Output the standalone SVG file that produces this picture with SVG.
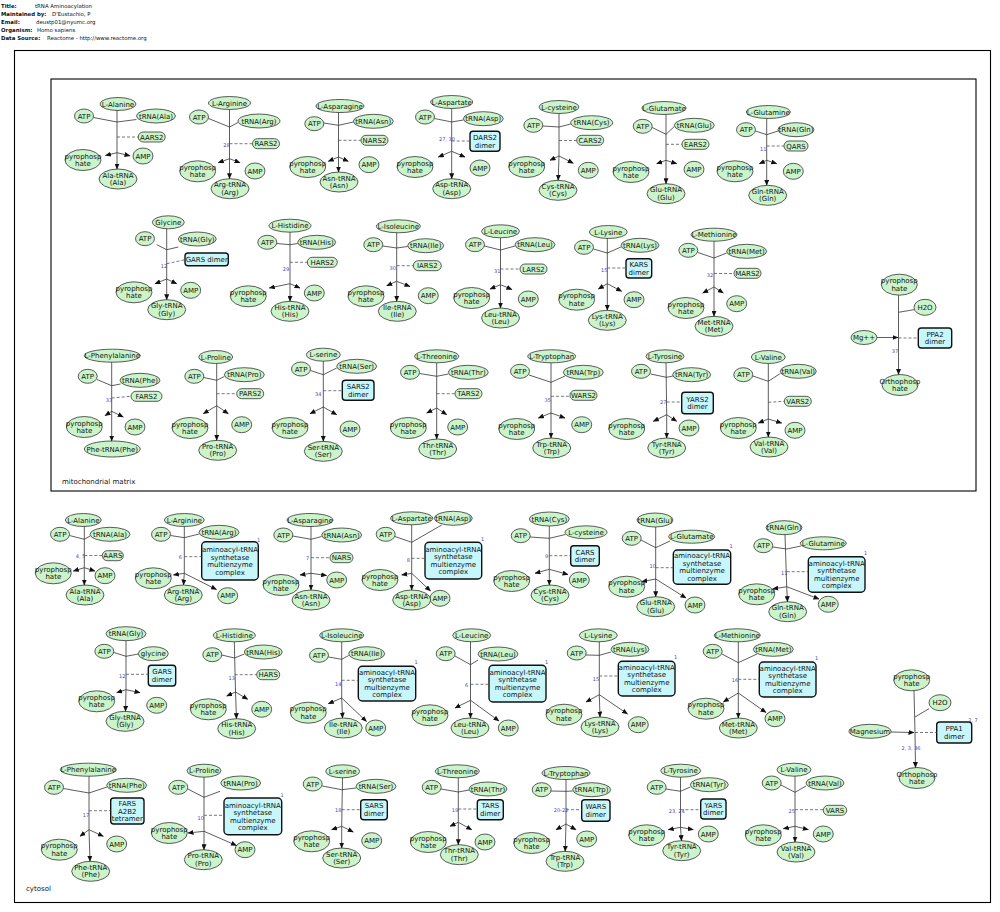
<svg xmlns="http://www.w3.org/2000/svg" width="1000" height="912" viewBox="0 0 1000 912">
<style>
text{font-family:"DejaVu Sans","Liberation Sans",sans-serif;font-size:7px;text-anchor:middle;fill:#111}
.hd text{text-anchor:start;font-size:5.4px}
.hd .k{font-weight:bold}
.n ellipse,.n rect{fill:#cbf4cb;stroke:#333;stroke-width:.8}
.x rect{fill:#c8f7fb;stroke:#111;stroke-width:1.4}
.lb{font-size:5px;fill:#4646c8}
.cmp{fill:none;stroke:#000;stroke-width:1.1}
.cl{text-anchor:start}
#connectors path{fill:none;stroke:#333;stroke-width:.8}
#connectors .d{stroke-dasharray:3,2;stroke:#555}
#connectors .a{marker-end:url(#ah)}
</style>
<defs>
<marker id="ah" markerUnits="userSpaceOnUse" markerWidth="6" markerHeight="5" refX="5.5" refY="2.5" orient="auto"><path d="M0,0 L6,2.5 L0,5 z" fill="#111"/></marker>
</defs>
<rect width="1000" height="912" fill="#fff"/>
<g class="hd">
<text x="1" y="8" class="k">Title:</text><text x="35" y="8">tRNA Aminoacylation</text>
<text x="1" y="16" class="k">Maintained by:</text><text x="52" y="16">D'Eustachio, P</text>
<text x="1" y="24" class="k">Email:</text><text x="36" y="24">deustp01@nyumc.org</text>
<text x="1" y="32" class="k">Organism:</text><text x="37" y="32">Homo sapiens</text>
<text x="1" y="40" class="k">Data Source:</text><text x="47" y="40">Reactome - http://www.reactome.org</text>
</g>
<g id="cytosol"><rect class="cmp" x="14.5" y="50.5" width="976" height="852"/><text class="cl" x="26" y="891">cytosol</text></g>
<g id="mitochondrial-matrix"><rect class="cmp" x="51" y="79" width="925" height="412" stroke-width="1.3"/><text class="cl" x="62" y="484">mitochondrial matrix</text></g>

<!-- mitochondrial matrix, row 1 -->
<g id="m-ala-aa" class="n"><ellipse cx="118" cy="104" rx="18" ry="6.5"/><text x="118" y="106.5">L-Alanine</text></g>
<g id="m-ala-atp" class="n"><ellipse cx="84" cy="116" rx="9.5" ry="7"/><text x="84" y="118.5">ATP</text></g>
<g id="m-ala-trna" class="n"><ellipse cx="156" cy="116" rx="19.5" ry="7"/><text x="156" y="118.5">tRNA(Ala)</text></g>
<g id="m-ala-enz" class="n"><rect x="138.2" y="132" width="27" height="10" rx="5"/><text x="151.7" y="139.5">AARS2</text></g>
<g id="m-ala-ppi" class="n"><ellipse cx="83" cy="160" rx="18" ry="10.5"/><text x="83" y="158.5">pyrophosp<tspan x="83" dy="7.5">hate</tspan></text></g>
<g id="m-ala-amp" class="n"><ellipse cx="143" cy="156" rx="10" ry="8"/><text x="143" y="158.5">AMP</text></g>
<g id="m-ala-prod" class="n"><ellipse cx="118" cy="179" rx="19" ry="10"/><text x="118" y="177.5">Ala-tRNA<tspan x="118" dy="7.5">(Ala)</tspan></text></g>

<g id="m-arg-aa" class="n"><ellipse cx="229.5" cy="103" rx="21" ry="6.5"/><text x="229.5" y="105.5">L-Arginine</text></g>
<g id="m-arg-atp" class="n"><ellipse cx="199" cy="117" rx="9.5" ry="7"/><text x="199" y="119.5">ATP</text></g>
<g id="m-arg-trna" class="n"><ellipse cx="259" cy="121" rx="21" ry="7"/><text x="259" y="123.5">tRNA(Arg)</text></g>
<g id="m-arg-enz" class="n"><rect x="252.5" y="138.7" width="27" height="10" rx="5"/><text x="266" y="146.2">RARS2</text></g>
<g id="m-arg-ppi" class="n"><ellipse cx="197.7" cy="171.3" rx="18" ry="10.5"/><text x="197.7" y="169.8">pyrophosp<tspan x="197.7" dy="7.5">hate</tspan></text></g>
<g id="m-arg-amp" class="n"><ellipse cx="255" cy="171" rx="10" ry="8"/><text x="255" y="173.5">AMP</text></g>
<g id="m-arg-prod" class="n"><ellipse cx="230" cy="188.7" rx="19" ry="10"/><text x="230" y="187.2">Arg-tRNA<tspan x="230" dy="7.5">(Arg)</tspan></text></g>

<g id="m-asn-aa" class="n"><ellipse cx="340" cy="106" rx="24" ry="6.5"/><text x="340" y="108.5">L-Asparagine</text></g>
<g id="m-asn-atp" class="n"><ellipse cx="314.3" cy="123.7" rx="9.5" ry="7"/><text x="314.3" y="126.2">ATP</text></g>
<g id="m-asn-trna" class="n"><ellipse cx="373.3" cy="121.3" rx="20" ry="7"/><text x="373.3" y="123.8">tRNA(Asn)</text></g>
<g id="m-asn-enz" class="n"><rect x="361" y="135.3" width="27" height="10" rx="5"/><text x="374.5" y="142.8">NARS2</text></g>
<g id="m-asn-ppi" class="n"><ellipse cx="307.7" cy="167" rx="18" ry="10.5"/><text x="307.7" y="165.5">pyrophosp<tspan x="307.7" dy="7.5">hate</tspan></text></g>
<g id="m-asn-amp" class="n"><ellipse cx="369" cy="164.7" rx="10" ry="8"/><text x="369" y="167.2">AMP</text></g>
<g id="m-asn-prod" class="n"><ellipse cx="339" cy="182" rx="19" ry="10"/><text x="339" y="180.5">Asn-tRNA<tspan x="339" dy="7.5">(Asn)</tspan></text></g>

<g id="m-asp-aa" class="n"><ellipse cx="451.7" cy="102" rx="21" ry="6.5"/><text x="451.7" y="104.5">L-Aspartate</text></g>
<g id="m-asp-atp" class="n"><ellipse cx="425" cy="117" rx="9.5" ry="7"/><text x="425" y="119.5">ATP</text></g>
<g id="m-asp-trna" class="n"><ellipse cx="483.3" cy="118.7" rx="20" ry="7"/><text x="483.3" y="121.2">tRNA(Asp)</text></g>
<g id="m-asp-enz" class="x"><rect x="470" y="131.3" width="30" height="20" rx="3"/><text x="485" y="140">DARS2<tspan x="485" dy="7.5">dimer</tspan></text></g>
<g id="m-asp-ppi" class="n"><ellipse cx="415" cy="167" rx="18" ry="10.5"/><text x="415" y="165.5">pyrophosp<tspan x="415" dy="7.5">hate</tspan></text></g>
<g id="m-asp-amp" class="n"><ellipse cx="480" cy="168" rx="10" ry="8"/><text x="480" y="170.5">AMP</text></g>
<g id="m-asp-prod" class="n"><ellipse cx="451.7" cy="188.7" rx="19" ry="10"/><text x="451.7" y="187.2">Asp-tRNA<tspan x="451.7" dy="7.5">(Asp)</tspan></text></g>

<g id="m-cys-aa" class="n"><ellipse cx="559" cy="107" rx="20" ry="6.5"/><text x="559" y="109.5">L-cysteine</text></g>
<g id="m-cys-atp" class="n"><ellipse cx="533.3" cy="125.3" rx="9.5" ry="7"/><text x="533.3" y="127.8">ATP</text></g>
<g id="m-cys-trna" class="n"><ellipse cx="591.7" cy="122.7" rx="21" ry="7"/><text x="591.7" y="125.2">tRNA(Cys)</text></g>
<g id="m-cys-enz" class="n"><rect x="576.7" y="135.3" width="27" height="10" rx="5"/><text x="590.2" y="142.8">CARS2</text></g>
<g id="m-cys-ppi" class="n"><ellipse cx="526.7" cy="167" rx="18" ry="10.5"/><text x="526.7" y="165.5">pyrophosp<tspan x="526.7" dy="7.5">hate</tspan></text></g>
<g id="m-cys-amp" class="n"><ellipse cx="588.3" cy="170.3" rx="10" ry="8"/><text x="588.3" y="172.8">AMP</text></g>
<g id="m-cys-prod" class="n"><ellipse cx="558" cy="190.3" rx="19" ry="10"/><text x="558" y="188.8">Cys-tRNA<tspan x="558" dy="7.5">(Cys)</tspan></text></g>

<g id="m-glu-aa" class="n"><ellipse cx="664" cy="108" rx="22" ry="6.5"/><text x="664" y="110.5">L-Glutamate</text></g>
<g id="m-glu-atp" class="n"><ellipse cx="642.7" cy="126.3" rx="9.5" ry="7"/><text x="642.7" y="128.8">ATP</text></g>
<g id="m-glu-trna" class="n"><ellipse cx="694.3" cy="125.3" rx="20" ry="7"/><text x="694.3" y="127.8">tRNA(Glu)</text></g>
<g id="m-glu-enz" class="n"><rect x="682" y="139.3" width="27" height="10" rx="5"/><text x="695.5" y="146.8">EARS2</text></g>
<g id="m-glu-ppi" class="n"><ellipse cx="631" cy="172" rx="18" ry="10.5"/><text x="631" y="170.5">pyrophosp<tspan x="631" dy="7.5">hate</tspan></text></g>
<g id="m-glu-amp" class="n"><ellipse cx="694" cy="169.3" rx="10" ry="8"/><text x="694" y="171.8">AMP</text></g>
<g id="m-glu-prod" class="n"><ellipse cx="666" cy="193.7" rx="19" ry="10"/><text x="666" y="192.2">Glu-tRNA<tspan x="666" dy="7.5">(Glu)</tspan></text></g>

<g id="m-gln-aa" class="n"><ellipse cx="768.3" cy="112" rx="22" ry="6.5"/><text x="768.3" y="114.5">L-Glutamine</text></g>
<g id="m-gln-atp" class="n"><ellipse cx="746" cy="129.7" rx="9.5" ry="7"/><text x="746" y="132.2">ATP</text></g>
<g id="m-gln-trna" class="n"><ellipse cx="796" cy="129.7" rx="18" ry="7"/><text x="796" y="132.2">tRNA(Gln)</text></g>
<g id="m-gln-enz" class="n"><rect x="784" y="141" width="24" height="10" rx="5"/><text x="796" y="148.5">QARS</text></g>
<g id="m-gln-ppi" class="n"><ellipse cx="735" cy="171.3" rx="18" ry="10.5"/><text x="735" y="169.8">pyrophosp<tspan x="735" dy="7.5">hate</tspan></text></g>
<g id="m-gln-amp" class="n"><ellipse cx="793.3" cy="171.3" rx="10" ry="8"/><text x="793.3" y="173.8">AMP</text></g>
<g id="m-gln-prod" class="n"><ellipse cx="767.7" cy="195.3" rx="19" ry="10"/><text x="767.7" y="193.8">Gln-tRNA<tspan x="767.7" dy="7.5">(Gln)</tspan></text></g>

<!-- mitochondrial matrix, row 2 -->
<g id="m-gly-aa" class="n"><ellipse cx="168.3" cy="222.3" rx="16" ry="6.5"/><text x="168.3" y="224.8">Glycine</text></g>
<g id="m-gly-atp" class="n"><ellipse cx="145" cy="238.7" rx="9.5" ry="7"/><text x="145" y="241.2">ATP</text></g>
<g id="m-gly-trna" class="n"><ellipse cx="197.3" cy="239" rx="19" ry="7"/><text x="197.3" y="241.5">tRNA(Gly)</text></g>
<g id="m-gly-enz" class="x"><rect x="185" y="253" width="43.3" height="12.7" rx="3"/><text x="206.7" y="261.8">GARS dimer</text></g>
<g id="m-gly-ppi" class="n"><ellipse cx="134" cy="292.3" rx="18" ry="10.5"/><text x="134" y="290.8">pyrophosp<tspan x="134" dy="7.5">hate</tspan></text></g>
<g id="m-gly-amp" class="n"><ellipse cx="190.7" cy="290.3" rx="10" ry="8"/><text x="190.7" y="292.8">AMP</text></g>
<g id="m-gly-prod" class="n"><ellipse cx="166.7" cy="309.7" rx="19" ry="10"/><text x="166.7" y="308.2">Gly-tRNA<tspan x="166.7" dy="7.5">(Gly)</tspan></text></g>

<g id="m-his-aa" class="n"><ellipse cx="290" cy="225.7" rx="21" ry="6.5"/><text x="290" y="228.2">L-Histidine</text></g>
<g id="m-his-atp" class="n"><ellipse cx="267.3" cy="242.3" rx="9.5" ry="7"/><text x="267.3" y="244.8">ATP</text></g>
<g id="m-his-trna" class="n"><ellipse cx="316.7" cy="242.3" rx="19" ry="7"/><text x="316.7" y="244.8">tRNA(His)</text></g>
<g id="m-his-enz" class="n"><rect x="307.3" y="257.3" width="30" height="10" rx="5"/><text x="322.3" y="264.8">HARS2</text></g>
<g id="m-his-ppi" class="n"><ellipse cx="248.3" cy="296.3" rx="18" ry="10.5"/><text x="248.3" y="294.8">pyrophosp<tspan x="248.3" dy="7.5">hate</tspan></text></g>
<g id="m-his-amp" class="n"><ellipse cx="314.3" cy="293" rx="10" ry="8"/><text x="314.3" y="295.5">AMP</text></g>
<g id="m-his-prod" class="n"><ellipse cx="290" cy="311.3" rx="19" ry="10"/><text x="290" y="309.8">His-tRNA<tspan x="290" dy="7.5">(His)</tspan></text></g>

<g id="m-ile-aa" class="n"><ellipse cx="398.3" cy="226.3" rx="22" ry="6.5"/><text x="398.3" y="228.8">L-Isoleucine</text></g>
<g id="m-ile-atp" class="n"><ellipse cx="373.3" cy="244.7" rx="9.5" ry="7"/><text x="373.3" y="247.2">ATP</text></g>
<g id="m-ile-trna" class="n"><ellipse cx="425.7" cy="245.7" rx="18" ry="7"/><text x="425.7" y="248.2">tRNA(Ile)</text></g>
<g id="m-ile-enz" class="n"><rect x="413.3" y="260.7" width="28" height="10" rx="5"/><text x="427.3" y="268.2">IARS2</text></g>
<g id="m-ile-ppi" class="n"><ellipse cx="366" cy="296.3" rx="18" ry="10.5"/><text x="366" y="294.8">pyrophosp<tspan x="366" dy="7.5">hate</tspan></text></g>
<g id="m-ile-amp" class="n"><ellipse cx="428.3" cy="295.7" rx="10" ry="8"/><text x="428.3" y="298.2">AMP</text></g>
<g id="m-ile-prod" class="n"><ellipse cx="397.3" cy="311.3" rx="19" ry="10"/><text x="397.3" y="309.8">Ile-tRNA<tspan x="397.3" dy="7.5">(Ile)</tspan></text></g>

<g id="m-leu-aa" class="n"><ellipse cx="500.5" cy="231.3" rx="19" ry="6.5"/><text x="500.5" y="233.8">L-Leucine</text></g>
<g id="m-leu-atp" class="n"><ellipse cx="475" cy="244.7" rx="9.5" ry="7"/><text x="475" y="247.2">ATP</text></g>
<g id="m-leu-trna" class="n"><ellipse cx="535" cy="244.7" rx="20" ry="7"/><text x="535" y="247.2">tRNA(Leu)</text></g>
<g id="m-leu-enz" class="n"><rect x="520" y="264" width="27" height="10" rx="5"/><text x="533.5" y="271.5">LARS2</text></g>
<g id="m-leu-ppi" class="n"><ellipse cx="471.7" cy="298" rx="18" ry="10.5"/><text x="471.7" y="296.5">pyrophosp<tspan x="471.7" dy="7.5">hate</tspan></text></g>
<g id="m-leu-amp" class="n"><ellipse cx="528.3" cy="299" rx="10" ry="8"/><text x="528.3" y="301.5">AMP</text></g>
<g id="m-leu-prod" class="n"><ellipse cx="500.5" cy="318" rx="19" ry="10"/><text x="500.5" y="316.5">Leu-tRNA<tspan x="500.5" dy="7.5">(Leu)</tspan></text></g>

<g id="m-lys-aa" class="n"><ellipse cx="608.3" cy="232" rx="19" ry="6.5"/><text x="608.3" y="234.5">L-Lysine</text></g>
<g id="m-lys-atp" class="n"><ellipse cx="584" cy="247.3" rx="9.5" ry="7"/><text x="584" y="249.8">ATP</text></g>
<g id="m-lys-trna" class="n"><ellipse cx="640" cy="245.3" rx="19" ry="7"/><text x="640" y="247.8">tRNA(Lys)</text></g>
<g id="m-lys-enz" class="x"><rect x="626" y="258.7" width="25.7" height="19.3" rx="3"/><text x="638.8" y="267.1">KARS<tspan x="638.8" dy="7.5">dimer</tspan></text></g>
<g id="m-lys-ppi" class="n"><ellipse cx="576.7" cy="299.7" rx="18" ry="10.5"/><text x="576.7" y="298.2">pyrophosp<tspan x="576.7" dy="7.5">hate</tspan></text></g>
<g id="m-lys-amp" class="n"><ellipse cx="634" cy="299.7" rx="10" ry="8"/><text x="634" y="302.2">AMP</text></g>
<g id="m-lys-prod" class="n"><ellipse cx="607.3" cy="320.3" rx="19" ry="10"/><text x="607.3" y="318.8">Lys-tRNA<tspan x="607.3" dy="7.5">(Lys)</tspan></text></g>

<g id="m-met-aa" class="n"><ellipse cx="714" cy="234.7" rx="23" ry="6.5"/><text x="714" y="237.2">L-Methionine</text></g>
<g id="m-met-atp" class="n"><ellipse cx="688.3" cy="250.3" rx="9.5" ry="7"/><text x="688.3" y="252.8">ATP</text></g>
<g id="m-met-trna" class="n"><ellipse cx="746.7" cy="251.3" rx="20" ry="7"/><text x="746.7" y="253.8">tRNA(Met)</text></g>
<g id="m-met-enz" class="n"><rect x="734" y="268.3" width="27" height="10" rx="5"/><text x="747.5" y="275.8">MARS2</text></g>
<g id="m-met-ppi" class="n"><ellipse cx="686" cy="308" rx="18" ry="10.5"/><text x="686" y="306.5">pyrophosp<tspan x="686" dy="7.5">hate</tspan></text></g>
<g id="m-met-amp" class="n"><ellipse cx="736.7" cy="303.7" rx="10" ry="8"/><text x="736.7" y="306.2">AMP</text></g>
<g id="m-met-prod" class="n"><ellipse cx="714" cy="326.3" rx="19" ry="10"/><text x="714" y="324.8">Met-tRNA<tspan x="714" dy="7.5">(Met)</tspan></text></g>

<g id="m-ppa-ppi" class="n"><ellipse cx="899.3" cy="284.7" rx="18" ry="10.5"/><text x="899.3" y="283.2">pyrophosp<tspan x="899.3" dy="7.5">hate</tspan></text></g>
<g id="m-ppa-h2o" class="n"><ellipse cx="925" cy="307.3" rx="11" ry="8"/><text x="925" y="309.8">H2O</text></g>
<g id="m-ppa-mg" class="n"><ellipse cx="864" cy="337.5" rx="13" ry="7"/><text x="864" y="340">Mg++</text></g>
<g id="m-ppa-enz" class="x"><rect x="918.3" y="328" width="33.4" height="20" rx="3"/><text x="935" y="336.7">PPA2<tspan x="935" dy="7.5">dimer</tspan></text></g>
<g id="m-ppa-pi" class="n"><ellipse cx="900" cy="385" rx="18" ry="10.5"/><text x="900" y="383.5">Orthophosp<tspan x="900" dy="7.5">hate</tspan></text></g>

<!-- mitochondrial matrix, row 3 -->
<g id="m-phe-aa" class="n"><ellipse cx="112.3" cy="355.7" rx="28" ry="6.5"/><text x="112.3" y="358.2">L-Phenylalanine</text></g>
<g id="m-phe-atp" class="n"><ellipse cx="87.7" cy="376.3" rx="9.5" ry="7"/><text x="87.7" y="378.8">ATP</text></g>
<g id="m-phe-trna" class="n"><ellipse cx="140" cy="380.3" rx="20" ry="7"/><text x="140" y="382.8">tRNA(Phe)</text></g>
<g id="m-phe-enz" class="n"><rect x="131" y="391.3" width="31" height="10" rx="5"/><text x="146.5" y="398.8">FARS2</text></g>
<g id="m-phe-ppi" class="n"><ellipse cx="84.3" cy="427" rx="18" ry="10.5"/><text x="84.3" y="425.5">pyrophosp<tspan x="84.3" dy="7.5">hate</tspan></text></g>
<g id="m-phe-amp" class="n"><ellipse cx="135" cy="427" rx="10" ry="8"/><text x="135" y="429.5">AMP</text></g>
<g id="m-phe-prod" class="n"><ellipse cx="112.3" cy="449" rx="28" ry="8"/><text x="112.3" y="451.5">Phe-tRNA(Phe)</text></g>

<g id="m-pro-aa" class="n"><ellipse cx="215.7" cy="357" rx="17" ry="6.5"/><text x="215.7" y="359.5">L-Proline</text></g>
<g id="m-pro-atp" class="n"><ellipse cx="194.3" cy="376.3" rx="9.5" ry="7"/><text x="194.3" y="378.8">ATP</text></g>
<g id="m-pro-trna" class="n"><ellipse cx="244.3" cy="374.7" rx="20" ry="7"/><text x="244.3" y="377.2">tRNA(Pro)</text></g>
<g id="m-pro-enz" class="n"><rect x="236.7" y="388.7" width="27" height="10" rx="5"/><text x="250.2" y="396.2">PARS2</text></g>
<g id="m-pro-ppi" class="n"><ellipse cx="190" cy="428" rx="18" ry="10.5"/><text x="190" y="426.5">pyrophosp<tspan x="190" dy="7.5">hate</tspan></text></g>
<g id="m-pro-amp" class="n"><ellipse cx="241.7" cy="424.7" rx="10" ry="8"/><text x="241.7" y="427.2">AMP</text></g>
<g id="m-pro-prod" class="n"><ellipse cx="217.7" cy="450.3" rx="19" ry="10"/><text x="217.7" y="448.8">Pro-tRNA<tspan x="217.7" dy="7.5">(Pro)</tspan></text></g>

<g id="m-ser-aa" class="n"><ellipse cx="323.3" cy="354.7" rx="17" ry="6.5"/><text x="323.3" y="357.2">L-serine</text></g>
<g id="m-ser-atp" class="n"><ellipse cx="301" cy="369" rx="9.5" ry="7"/><text x="301" y="371.5">ATP</text></g>
<g id="m-ser-trna" class="n"><ellipse cx="356.7" cy="366.3" rx="20" ry="7"/><text x="356.7" y="368.8">tRNA(Ser)</text></g>
<g id="m-ser-enz" class="x"><rect x="342.3" y="380.3" width="31.7" height="20" rx="3"/><text x="358.2" y="389">SARS2<tspan x="358.2" dy="7.5">dimer</tspan></text></g>
<g id="m-ser-ppi" class="n"><ellipse cx="290" cy="428" rx="18" ry="10.5"/><text x="290" y="426.5">pyrophosp<tspan x="290" dy="7.5">hate</tspan></text></g>
<g id="m-ser-amp" class="n"><ellipse cx="350" cy="429" rx="10" ry="8"/><text x="350" y="431.5">AMP</text></g>
<g id="m-ser-prod" class="n"><ellipse cx="323.3" cy="451.3" rx="19" ry="10"/><text x="323.3" y="449.8">Ser-tRNA<tspan x="323.3" dy="7.5">(Ser)</tspan></text></g>

<g id="m-thr-aa" class="n"><ellipse cx="436.7" cy="356.3" rx="22" ry="6.5"/><text x="436.7" y="358.8">L-Threonine</text></g>
<g id="m-thr-atp" class="n"><ellipse cx="410" cy="372.3" rx="9.5" ry="7"/><text x="410" y="374.8">ATP</text></g>
<g id="m-thr-trna" class="n"><ellipse cx="468.3" cy="372.3" rx="20" ry="7"/><text x="468.3" y="374.8">tRNA(Thr)</text></g>
<g id="m-thr-enz" class="n"><rect x="455" y="388.7" width="27" height="10" rx="5"/><text x="468.5" y="396.2">TARS2</text></g>
<g id="m-thr-ppi" class="n"><ellipse cx="408.3" cy="428" rx="18" ry="10.5"/><text x="408.3" y="426.5">pyrophosp<tspan x="408.3" dy="7.5">hate</tspan></text></g>
<g id="m-thr-amp" class="n"><ellipse cx="457.7" cy="427" rx="10" ry="8"/><text x="457.7" y="429.5">AMP</text></g>
<g id="m-thr-prod" class="n"><ellipse cx="437.7" cy="449" rx="19" ry="10"/><text x="437.7" y="447.5">Thr-tRNA<tspan x="437.7" dy="7.5">(Thr)</tspan></text></g>

<g id="m-trp-aa" class="n"><ellipse cx="551.7" cy="356.3" rx="24" ry="6.5"/><text x="551.7" y="358.8">L-Tryptophan</text></g>
<g id="m-trp-atp" class="n"><ellipse cx="520" cy="371.3" rx="9.5" ry="7"/><text x="520" y="373.8">ATP</text></g>
<g id="m-trp-trna" class="n"><ellipse cx="583.3" cy="372.3" rx="20" ry="7"/><text x="583.3" y="374.8">tRNA(Trp)</text></g>
<g id="m-trp-enz" class="n"><rect x="570" y="390.3" width="27" height="10" rx="5"/><text x="583.5" y="397.8">WARS2</text></g>
<g id="m-trp-ppi" class="n"><ellipse cx="516.7" cy="429" rx="18" ry="10.5"/><text x="516.7" y="427.5">pyrophosp<tspan x="516.7" dy="7.5">hate</tspan></text></g>
<g id="m-trp-amp" class="n"><ellipse cx="581.7" cy="424.7" rx="10" ry="8"/><text x="581.7" y="427.2">AMP</text></g>
<g id="m-trp-prod" class="n"><ellipse cx="551.7" cy="448" rx="19" ry="10"/><text x="551.7" y="446.5">Trp-tRNA<tspan x="551.7" dy="7.5">(Trp)</tspan></text></g>

<g id="m-tyr-aa" class="n"><ellipse cx="665" cy="356.3" rx="19" ry="6.5"/><text x="665" y="358.8">L-Tyrosine</text></g>
<g id="m-tyr-atp" class="n"><ellipse cx="641" cy="371.3" rx="9.5" ry="7"/><text x="641" y="373.8">ATP</text></g>
<g id="m-tyr-trna" class="n"><ellipse cx="691.7" cy="374.7" rx="19" ry="7"/><text x="691.7" y="377.2">tRNA(Tyr)</text></g>
<g id="m-tyr-enz" class="x"><rect x="681.7" y="392.3" width="31.6" height="21.4" rx="3"/><text x="697.5" y="401.7">YARS2<tspan x="697.5" dy="7.5">dimer</tspan></text></g>
<g id="m-tyr-ppi" class="n"><ellipse cx="626.7" cy="429" rx="18" ry="10.5"/><text x="626.7" y="427.5">pyrophosp<tspan x="626.7" dy="7.5">hate</tspan></text></g>
<g id="m-tyr-amp" class="n"><ellipse cx="689" cy="428" rx="10" ry="8"/><text x="689" y="430.5">AMP</text></g>
<g id="m-tyr-prod" class="n"><ellipse cx="666.7" cy="448" rx="19" ry="10"/><text x="666.7" y="446.5">Tyr-tRNA<tspan x="666.7" dy="7.5">(Tyr)</tspan></text></g>

<g id="m-val-aa" class="n"><ellipse cx="768.3" cy="357" rx="17" ry="6.5"/><text x="768.3" y="359.5">L-Valine</text></g>
<g id="m-val-atp" class="n"><ellipse cx="743.3" cy="374.7" rx="9.5" ry="7"/><text x="743.3" y="377.2">ATP</text></g>
<g id="m-val-trna" class="n"><ellipse cx="798.3" cy="371.3" rx="18" ry="7"/><text x="798.3" y="373.8">tRNA(Val)</text></g>
<g id="m-val-enz" class="n"><rect x="784.3" y="396.3" width="27" height="10" rx="5"/><text x="797.8" y="403.8">VARS2</text></g>
<g id="m-val-ppi" class="n"><ellipse cx="738.3" cy="428" rx="18" ry="10.5"/><text x="738.3" y="426.5">pyrophosp<tspan x="738.3" dy="7.5">hate</tspan></text></g>
<g id="m-val-amp" class="n"><ellipse cx="795" cy="430.3" rx="10" ry="8"/><text x="795" y="432.8">AMP</text></g>
<g id="m-val-prod" class="n"><ellipse cx="769" cy="447" rx="19" ry="10"/><text x="769" y="445.5">Val-tRNA<tspan x="769" dy="7.5">(Val)</tspan></text></g>

<!-- cytosol, row 1 -->
<g id="c-ala-aa" class="n"><ellipse cx="83.3" cy="520" rx="18" ry="6.5"/><text x="83.3" y="522.5">L-Alanine</text></g>
<g id="c-ala-atp" class="n"><ellipse cx="60" cy="534.3" rx="9.5" ry="7"/><text x="60" y="536.8">ATP</text></g>
<g id="c-ala-trna" class="n"><ellipse cx="110" cy="534.3" rx="20" ry="7"/><text x="110" y="536.8">tRNA(Ala)</text></g>
<g id="c-ala-enz" class="n"><rect x="102.3" y="550.7" width="21" height="10" rx="5"/><text x="112.8" y="558.2">AARS</text></g>
<g id="c-ala-ppi" class="n"><ellipse cx="53.3" cy="573.3" rx="18" ry="10.5"/><text x="53.3" y="571.8">pyrophosp<tspan x="53.3" dy="7.5">hate</tspan></text></g>
<g id="c-ala-amp" class="n"><ellipse cx="105" cy="575.7" rx="10" ry="8"/><text x="105" y="578.2">AMP</text></g>
<g id="c-ala-prod" class="n"><ellipse cx="85" cy="595" rx="19" ry="10"/><text x="85" y="593.5">Ala-tRNA<tspan x="85" dy="7.5">(Ala)</tspan></text></g>

<g id="c-arg-aa" class="n"><ellipse cx="184.3" cy="520" rx="20" ry="6.5"/><text x="184.3" y="522.5">L-Arginine</text></g>
<g id="c-arg-atp" class="n"><ellipse cx="161" cy="534.3" rx="9.5" ry="7"/><text x="161" y="536.8">ATP</text></g>
<g id="c-arg-trna" class="n"><ellipse cx="219" cy="532.3" rx="20" ry="7"/><text x="219" y="534.8">tRNA(Arg)</text></g>
<g id="c-arg-enz" class="x"><rect x="201.7" y="541.7" width="56.6" height="38.3" rx="4"/><text x="230" y="552.1">aminoacyl-tRNA<tspan x="230" dy="7.5">synthetase</tspan><tspan x="230" dy="7.5">multienzyme</tspan><tspan x="230" dy="7.5">complex</tspan></text></g>
<g id="c-arg-ppi" class="n"><ellipse cx="153.3" cy="578.3" rx="18" ry="10.5"/><text x="153.3" y="576.8">pyrophosp<tspan x="153.3" dy="7.5">hate</tspan></text></g>
<g id="c-arg-amp" class="n"><ellipse cx="227.7" cy="595.7" rx="10" ry="8"/><text x="227.7" y="598.2">AMP</text></g>
<g id="c-arg-prod" class="n"><ellipse cx="183.3" cy="595" rx="19" ry="10"/><text x="183.3" y="593.5">Arg-tRNA<tspan x="183.3" dy="7.5">(Arg)</tspan></text></g>

<g id="c-asn-aa" class="n"><ellipse cx="310" cy="520" rx="23" ry="6.5"/><text x="310" y="522.5">L-Asparagine</text></g>
<g id="c-asn-atp" class="n"><ellipse cx="283.3" cy="535" rx="9.5" ry="7"/><text x="283.3" y="537.5">ATP</text></g>
<g id="c-asn-trna" class="n"><ellipse cx="341.7" cy="535" rx="20" ry="7"/><text x="341.7" y="537.5">tRNA(Asn)</text></g>
<g id="c-asn-enz" class="n"><rect x="330" y="552.7" width="23" height="10" rx="5"/><text x="341.5" y="560.2">NARS</text></g>
<g id="c-asn-ppi" class="n"><ellipse cx="281" cy="585" rx="18" ry="10.5"/><text x="281" y="583.5">pyrophosp<tspan x="281" dy="7.5">hate</tspan></text></g>
<g id="c-asn-amp" class="n"><ellipse cx="336.7" cy="580" rx="10" ry="8"/><text x="336.7" y="582.5">AMP</text></g>
<g id="c-asn-prod" class="n"><ellipse cx="311" cy="600" rx="19" ry="10"/><text x="311" y="598.5">Asn-tRNA<tspan x="311" dy="7.5">(Asn)</tspan></text></g>

<g id="c-asp-aa" class="n"><ellipse cx="411.7" cy="518.3" rx="21" ry="6.5"/><text x="411.7" y="520.8">L-Aspartate</text></g>
<g id="c-asp-trna" class="n"><ellipse cx="453.3" cy="518.3" rx="19" ry="7"/><text x="453.3" y="520.8">tRNA(Asp)</text></g>
<g id="c-asp-atp" class="n"><ellipse cx="385.7" cy="534.3" rx="9.5" ry="7"/><text x="385.7" y="536.8">ATP</text></g>
<g id="c-asp-enz" class="x"><rect x="425" y="542.3" width="56.7" height="36.7" rx="4"/><text x="453.3" y="551.9">aminoacyl-tRNA<tspan x="453.3" dy="7.5">synthetase</tspan><tspan x="453.3" dy="7.5">multienzyme</tspan><tspan x="453.3" dy="7.5">complex</tspan></text></g>
<g id="c-asp-ppi" class="n"><ellipse cx="380" cy="580" rx="18" ry="10.5"/><text x="380" y="578.5">pyrophosp<tspan x="380" dy="7.5">hate</tspan></text></g>
<g id="c-asp-amp" class="n"><ellipse cx="440" cy="598.3" rx="10" ry="8"/><text x="440" y="600.8">AMP</text></g>
<g id="c-asp-prod" class="n"><ellipse cx="411.7" cy="600" rx="19" ry="10"/><text x="411.7" y="598.5">Asp-tRNA<tspan x="411.7" dy="7.5">(Asp)</tspan></text></g>

<g id="c-cys-trna" class="n"><ellipse cx="549.3" cy="519" rx="20" ry="7"/><text x="549.3" y="521.5">tRNA(Cys)</text></g>
<g id="c-cys-atp" class="n"><ellipse cx="520.7" cy="535.7" rx="9.5" ry="7"/><text x="520.7" y="538.2">ATP</text></g>
<g id="c-cys-aa" class="n"><ellipse cx="586" cy="532.3" rx="21" ry="6.5"/><text x="586" y="534.8">L-cysteine</text></g>
<g id="c-cys-enz" class="x"><rect x="570.7" y="545.7" width="28.6" height="20.3" rx="3"/><text x="585" y="554.6">CARS<tspan x="585" dy="7.5">dimer</tspan></text></g>
<g id="c-cys-ppi" class="n"><ellipse cx="511.7" cy="581" rx="18" ry="10.5"/><text x="511.7" y="579.5">pyrophosp<tspan x="511.7" dy="7.5">hate</tspan></text></g>
<g id="c-cys-amp" class="n"><ellipse cx="579.3" cy="580" rx="10" ry="8"/><text x="579.3" y="582.5">AMP</text></g>
<g id="c-cys-prod" class="n"><ellipse cx="550" cy="595" rx="19" ry="10"/><text x="550" y="593.5">Cys-tRNA<tspan x="550" dy="7.5">(Cys)</tspan></text></g>

<g id="c-glu-trna" class="n"><ellipse cx="655" cy="520" rx="18" ry="7"/><text x="655" y="522.5">tRNA(Glu)</text></g>
<g id="c-glu-atp" class="n"><ellipse cx="631.7" cy="538.3" rx="9.5" ry="7"/><text x="631.7" y="540.8">ATP</text></g>
<g id="c-glu-aa" class="n"><ellipse cx="691.7" cy="536.7" rx="23" ry="6.5"/><text x="691.7" y="539.2">L-Glutamate</text></g>
<g id="c-glu-enz" class="x"><rect x="673.3" y="550" width="57.4" height="34.3" rx="4"/><text x="702" y="558.4">aminoacyl-tRNA<tspan x="702" dy="7.5">synthetase</tspan><tspan x="702" dy="7.5">multienzyme</tspan><tspan x="702" dy="7.5">complex</tspan></text></g>
<g id="c-glu-ppi" class="n"><ellipse cx="626.7" cy="586.7" rx="18" ry="10.5"/><text x="626.7" y="585.2">pyrophosp<tspan x="626.7" dy="7.5">hate</tspan></text></g>
<g id="c-glu-amp" class="n"><ellipse cx="695" cy="605" rx="10" ry="8"/><text x="695" y="607.5">AMP</text></g>
<g id="c-glu-prod" class="n"><ellipse cx="655.7" cy="606.7" rx="19" ry="10"/><text x="655.7" y="605.2">Glu-tRNA<tspan x="655.7" dy="7.5">(Glu)</tspan></text></g>

<g id="c-gln-trna" class="n"><ellipse cx="784" cy="527.7" rx="18" ry="7"/><text x="784" y="530.2">tRNA(Gln)</text></g>
<g id="c-gln-atp" class="n"><ellipse cx="763.3" cy="545.7" rx="9.5" ry="7"/><text x="763.3" y="548.2">ATP</text></g>
<g id="c-gln-aa" class="n"><ellipse cx="823.3" cy="543.3" rx="23" ry="6.5"/><text x="823.3" y="545.8">L-Glutamine</text></g>
<g id="c-gln-enz" class="x"><rect x="808.3" y="556.7" width="56.7" height="35.6" rx="4"/><text x="836.7" y="565.7">aminoacyl-tRNA<tspan x="836.7" dy="7.5">synthetase</tspan><tspan x="836.7" dy="7.5">multienzyme</tspan><tspan x="836.7" dy="7.5">complex</tspan></text></g>
<g id="c-gln-ppi" class="n"><ellipse cx="756.7" cy="594.3" rx="18" ry="10.5"/><text x="756.7" y="592.8">pyrophosp<tspan x="756.7" dy="7.5">hate</tspan></text></g>
<g id="c-gln-amp" class="n"><ellipse cx="828.3" cy="604.3" rx="10" ry="8"/><text x="828.3" y="606.8">AMP</text></g>
<g id="c-gln-prod" class="n"><ellipse cx="787.7" cy="611.7" rx="19" ry="10"/><text x="787.7" y="610.2">Gln-tRNA<tspan x="787.7" dy="7.5">(Gln)</tspan></text></g>

<!-- cytosol, row 2 -->
<g id="c-gly-trna" class="n"><ellipse cx="126" cy="633.7" rx="20" ry="7"/><text x="126" y="636.2">tRNA(Gly)</text></g>
<g id="c-gly-atp" class="n"><ellipse cx="104.3" cy="651.3" rx="9.5" ry="7"/><text x="104.3" y="653.8">ATP</text></g>
<g id="c-gly-aa" class="n"><ellipse cx="153.3" cy="653.7" rx="15" ry="7"/><text x="153.3" y="656.2">glycine</text></g>
<g id="c-gly-enz" class="x"><rect x="148.3" y="665.3" width="27.4" height="20.7" rx="3"/><text x="162" y="674.4">GARS<tspan x="162" dy="7.5">dimer</tspan></text></g>
<g id="c-gly-ppi" class="n"><ellipse cx="96.7" cy="701.3" rx="18" ry="10.5"/><text x="96.7" y="699.8">pyrophosp<tspan x="96.7" dy="7.5">hate</tspan></text></g>
<g id="c-gly-amp" class="n"><ellipse cx="156.7" cy="705.3" rx="10" ry="8"/><text x="156.7" y="707.8">AMP</text></g>
<g id="c-gly-prod" class="n"><ellipse cx="125" cy="721.3" rx="19" ry="10"/><text x="125" y="719.8">Gly-tRNA<tspan x="125" dy="7.5">(Gly)</tspan></text></g>

<g id="c-his-aa" class="n"><ellipse cx="234.3" cy="635.3" rx="21" ry="6.5"/><text x="234.3" y="637.8">L-Histidine</text></g>
<g id="c-his-atp" class="n"><ellipse cx="212.3" cy="654.7" rx="9.5" ry="7"/><text x="212.3" y="657.2">ATP</text></g>
<g id="c-his-trna" class="n"><ellipse cx="263.3" cy="652" rx="19" ry="7"/><text x="263.3" y="654.5">tRNA(His)</text></g>
<g id="c-his-enz" class="n"><rect x="256.7" y="669.7" width="23" height="10" rx="5"/><text x="268.2" y="677.2">HARS</text></g>
<g id="c-his-ppi" class="n"><ellipse cx="208.3" cy="709.3" rx="18" ry="10.5"/><text x="208.3" y="707.8">pyrophosp<tspan x="208.3" dy="7.5">hate</tspan></text></g>
<g id="c-his-amp" class="n"><ellipse cx="261.7" cy="709.3" rx="10" ry="8"/><text x="261.7" y="711.8">AMP</text></g>
<g id="c-his-prod" class="n"><ellipse cx="236.7" cy="728.7" rx="19" ry="10"/><text x="236.7" y="727.2">His-tRNA<tspan x="236.7" dy="7.5">(His)</tspan></text></g>

<g id="c-ile-aa" class="n"><ellipse cx="341.7" cy="635.3" rx="22" ry="6.5"/><text x="341.7" y="637.8">L-Isoleucine</text></g>
<g id="c-ile-atp" class="n"><ellipse cx="319" cy="655.3" rx="9.5" ry="7"/><text x="319" y="657.8">ATP</text></g>
<g id="c-ile-trna" class="n"><ellipse cx="366.7" cy="653.7" rx="18" ry="7"/><text x="366.7" y="656.2">tRNA(Ile)</text></g>
<g id="c-ile-enz" class="x"><rect x="358.3" y="666.3" width="57.4" height="34.7" rx="4"/><text x="387" y="674.9">aminoacyl-tRNA<tspan x="387" dy="7.5">synthetase</tspan><tspan x="387" dy="7.5">multienzyme</tspan><tspan x="387" dy="7.5">complex</tspan></text></g>
<g id="c-ile-ppi" class="n"><ellipse cx="308.3" cy="712.7" rx="18" ry="10.5"/><text x="308.3" y="711.2">pyrophosp<tspan x="308.3" dy="7.5">hate</tspan></text></g>
<g id="c-ile-amp" class="n"><ellipse cx="375.7" cy="728" rx="10" ry="8"/><text x="375.7" y="730.5">AMP</text></g>
<g id="c-ile-prod" class="n"><ellipse cx="343.3" cy="728" rx="19" ry="10"/><text x="343.3" y="726.5">Ile-tRNA<tspan x="343.3" dy="7.5">(Ile)</tspan></text></g>

<g id="c-leu-aa" class="n"><ellipse cx="471.7" cy="635.3" rx="19" ry="6.5"/><text x="471.7" y="637.8">L-Leucine</text></g>
<g id="c-leu-atp" class="n"><ellipse cx="445.7" cy="653.7" rx="9.5" ry="7"/><text x="445.7" y="656.2">ATP</text></g>
<g id="c-leu-trna" class="n"><ellipse cx="498" cy="654" rx="20" ry="7"/><text x="498" y="656.5">tRNA(Leu)</text></g>
<g id="c-leu-enz" class="x"><rect x="489" y="665.3" width="57" height="36.7" rx="4"/><text x="517.5" y="674.9">aminoacyl-tRNA<tspan x="517.5" dy="7.5">synthetase</tspan><tspan x="517.5" dy="7.5">multienzyme</tspan><tspan x="517.5" dy="7.5">complex</tspan></text></g>
<g id="c-leu-ppi" class="n"><ellipse cx="430" cy="715.3" rx="18" ry="10.5"/><text x="430" y="713.8">pyrophosp<tspan x="430" dy="7.5">hate</tspan></text></g>
<g id="c-leu-amp" class="n"><ellipse cx="508.3" cy="728" rx="10" ry="8"/><text x="508.3" y="730.5">AMP</text></g>
<g id="c-leu-prod" class="n"><ellipse cx="470" cy="728" rx="19" ry="10"/><text x="470" y="726.5">Leu-tRNA<tspan x="470" dy="7.5">(Leu)</tspan></text></g>

<g id="c-lys-aa" class="n"><ellipse cx="598.3" cy="635.3" rx="19" ry="6.5"/><text x="598.3" y="637.8">L-Lysine</text></g>
<g id="c-lys-atp" class="n"><ellipse cx="576.7" cy="653" rx="9.5" ry="7"/><text x="576.7" y="655.5">ATP</text></g>
<g id="c-lys-trna" class="n"><ellipse cx="630" cy="649.3" rx="19" ry="7"/><text x="630" y="651.8">tRNA(Lys)</text></g>
<g id="c-lys-enz" class="x"><rect x="618.3" y="661.3" width="56.7" height="34.7" rx="4"/><text x="646.7" y="669.9">aminoacyl-tRNA<tspan x="646.7" dy="7.5">synthetase</tspan><tspan x="646.7" dy="7.5">multienzyme</tspan><tspan x="646.7" dy="7.5">complex</tspan></text></g>
<g id="c-lys-ppi" class="n"><ellipse cx="564" cy="714.7" rx="18" ry="10.5"/><text x="564" y="713.2">pyrophosp<tspan x="564" dy="7.5">hate</tspan></text></g>
<g id="c-lys-amp" class="n"><ellipse cx="638.3" cy="724.7" rx="10" ry="8"/><text x="638.3" y="727.2">AMP</text></g>
<g id="c-lys-prod" class="n"><ellipse cx="600" cy="727" rx="19" ry="10"/><text x="600" y="725.5">Lys-tRNA<tspan x="600" dy="7.5">(Lys)</tspan></text></g>

<g id="c-met-aa" class="n"><ellipse cx="737.3" cy="635.3" rx="23" ry="6.5"/><text x="737.3" y="637.8">L-Methionine</text></g>
<g id="c-met-atp" class="n"><ellipse cx="712.7" cy="651.3" rx="9.5" ry="7"/><text x="712.7" y="653.8">ATP</text></g>
<g id="c-met-trna" class="n"><ellipse cx="773.3" cy="649.3" rx="20" ry="7"/><text x="773.3" y="651.8">tRNA(Met)</text></g>
<g id="c-met-enz" class="x"><rect x="759.3" y="662" width="56.7" height="35" rx="4"/><text x="787.7" y="670.8">aminoacyl-tRNA<tspan x="787.7" dy="7.5">synthetase</tspan><tspan x="787.7" dy="7.5">multienzyme</tspan><tspan x="787.7" dy="7.5">complex</tspan></text></g>
<g id="c-met-ppi" class="n"><ellipse cx="706" cy="708.7" rx="18" ry="10.5"/><text x="706" y="707.2">pyrophosp<tspan x="706" dy="7.5">hate</tspan></text></g>
<g id="c-met-amp" class="n"><ellipse cx="775" cy="718.7" rx="10" ry="8"/><text x="775" y="721.2">AMP</text></g>
<g id="c-met-prod" class="n"><ellipse cx="738.3" cy="728" rx="19" ry="10"/><text x="738.3" y="726.5">Met-tRNA<tspan x="738.3" dy="7.5">(Met)</tspan></text></g>

<g id="c-ppa-ppi" class="n"><ellipse cx="911.7" cy="680.3" rx="18" ry="10.5"/><text x="911.7" y="678.8">pyrophosp<tspan x="911.7" dy="7.5">hate</tspan></text></g>
<g id="c-ppa-h2o" class="n"><ellipse cx="940" cy="702.7" rx="11" ry="8"/><text x="940" y="705.2">H2O</text></g>
<g id="c-ppa-mg" class="n"><ellipse cx="870" cy="731.3" rx="21" ry="7"/><text x="870" y="733.8">Magnesium</text></g>
<g id="c-ppa-enz" class="x"><rect x="936.7" y="722" width="35" height="21" rx="3"/><text x="954.2" y="731.3">PPA1<tspan x="954.2" dy="7.5">dimer</tspan></text></g>
<g id="c-ppa-pi" class="n"><ellipse cx="917" cy="778" rx="18" ry="10.5"/><text x="917" y="776.5">Orthophosp<tspan x="917" dy="7.5">hate</tspan></text></g>

<!-- cytosol, row 3 -->
<g id="c-phe-aa" class="n"><ellipse cx="88.3" cy="769.7" rx="28" ry="6.5"/><text x="88.3" y="772.2">L-Phenylalanine</text></g>
<g id="c-phe-atp" class="n"><ellipse cx="54" cy="787.3" rx="9.5" ry="7"/><text x="54" y="789.8">ATP</text></g>
<g id="c-phe-trna" class="n"><ellipse cx="126.7" cy="785.3" rx="20" ry="7"/><text x="126.7" y="787.8">tRNA(Phe)</text></g>
<g id="c-phe-enz" class="x"><rect x="110.7" y="798" width="33.3" height="26" rx="3"/><text x="127.3" y="806">FARS<tspan x="127.3" dy="7.5">A2B2</tspan><tspan x="127.3" dy="7.5">tetramer</tspan></text></g>
<g id="c-phe-ppi" class="n"><ellipse cx="59.3" cy="849.7" rx="18" ry="10.5"/><text x="59.3" y="848.2">pyrophosp<tspan x="59.3" dy="7.5">hate</tspan></text></g>
<g id="c-phe-amp" class="n"><ellipse cx="116.7" cy="844" rx="10" ry="8"/><text x="116.7" y="846.5">AMP</text></g>
<g id="c-phe-prod" class="n"><ellipse cx="90.7" cy="871.3" rx="19" ry="10"/><text x="90.7" y="869.8">Phe-tRNA<tspan x="90.7" dy="7.5">(Phe)</tspan></text></g>

<g id="c-pro-aa" class="n"><ellipse cx="204" cy="770.7" rx="17" ry="6.5"/><text x="204" y="773.2">L-Proline</text></g>
<g id="c-pro-atp" class="n"><ellipse cx="178.3" cy="787.3" rx="9.5" ry="7"/><text x="178.3" y="789.8">ATP</text></g>
<g id="c-pro-trna" class="n"><ellipse cx="240.7" cy="783" rx="20" ry="7"/><text x="240.7" y="785.5">tRNA(Pro)</text></g>
<g id="c-pro-enz" class="x"><rect x="224" y="798" width="57.7" height="36.7" rx="4"/><text x="252.8" y="807.6">aminoacyl-tRNA<tspan x="252.8" dy="7.5">synthetase</tspan><tspan x="252.8" dy="7.5">multienzyme</tspan><tspan x="252.8" dy="7.5">complex</tspan></text></g>
<g id="c-pro-ppi" class="n"><ellipse cx="169.3" cy="833" rx="18" ry="10.5"/><text x="169.3" y="831.5">pyrophosp<tspan x="169.3" dy="7.5">hate</tspan></text></g>
<g id="c-pro-amp" class="n"><ellipse cx="245" cy="849.7" rx="10" ry="8"/><text x="245" y="852.2">AMP</text></g>
<g id="c-pro-prod" class="n"><ellipse cx="203.3" cy="859.7" rx="19" ry="10"/><text x="203.3" y="858.2">Pro-tRNA<tspan x="203.3" dy="7.5">(Pro)</tspan></text></g>

<g id="c-ser-aa" class="n"><ellipse cx="342.7" cy="771.3" rx="17" ry="6.5"/><text x="342.7" y="773.8">L-serine</text></g>
<g id="c-ser-atp" class="n"><ellipse cx="312.7" cy="784" rx="9.5" ry="7"/><text x="312.7" y="786.5">ATP</text></g>
<g id="c-ser-trna" class="n"><ellipse cx="376" cy="786.3" rx="20" ry="7"/><text x="376" y="788.8">tRNA(Ser)</text></g>
<g id="c-ser-enz" class="x"><rect x="360.7" y="799.7" width="26.6" height="20" rx="3"/><text x="374" y="808.4">SARS<tspan x="374" dy="7.5">dimer</tspan></text></g>
<g id="c-ser-ppi" class="n"><ellipse cx="311.7" cy="841.3" rx="18" ry="10.5"/><text x="311.7" y="839.8">pyrophosp<tspan x="311.7" dy="7.5">hate</tspan></text></g>
<g id="c-ser-amp" class="n"><ellipse cx="371.7" cy="840.7" rx="10" ry="8"/><text x="371.7" y="843.2">AMP</text></g>
<g id="c-ser-prod" class="n"><ellipse cx="341.7" cy="858" rx="19" ry="10"/><text x="341.7" y="856.5">Ser-tRNA<tspan x="341.7" dy="7.5">(Ser)</tspan></text></g>

<g id="c-thr-aa" class="n"><ellipse cx="457.3" cy="771.3" rx="22" ry="6.5"/><text x="457.3" y="773.8">L-Threonine</text></g>
<g id="c-thr-atp" class="n"><ellipse cx="431.7" cy="787.3" rx="9.5" ry="7"/><text x="431.7" y="789.8">ATP</text></g>
<g id="c-thr-trna" class="n"><ellipse cx="488" cy="789" rx="19" ry="7"/><text x="488" y="791.5">tRNA(Thr)</text></g>
<g id="c-thr-enz" class="x"><rect x="477.3" y="799.7" width="26" height="20" rx="3"/><text x="490.3" y="808.4">TARS<tspan x="490.3" dy="7.5">dimer</tspan></text></g>
<g id="c-thr-ppi" class="n"><ellipse cx="428.3" cy="842" rx="18" ry="10.5"/><text x="428.3" y="840.5">pyrophosp<tspan x="428.3" dy="7.5">hate</tspan></text></g>
<g id="c-thr-amp" class="n"><ellipse cx="485" cy="842" rx="10" ry="8"/><text x="485" y="844.5">AMP</text></g>
<g id="c-thr-prod" class="n"><ellipse cx="459.3" cy="854.7" rx="19" ry="10"/><text x="459.3" y="853.2">Thr-tRNA<tspan x="459.3" dy="7.5">(Thr)</tspan></text></g>

<g id="c-trp-aa" class="n"><ellipse cx="566" cy="773" rx="24" ry="6.5"/><text x="566" y="775.5">L-Tryptophan</text></g>
<g id="c-trp-atp" class="n"><ellipse cx="541.7" cy="789.7" rx="9.5" ry="7"/><text x="541.7" y="792.2">ATP</text></g>
<g id="c-trp-trna" class="n"><ellipse cx="591.7" cy="789.7" rx="19" ry="7"/><text x="591.7" y="792.2">tRNA(Trp)</text></g>
<g id="c-trp-enz" class="x"><rect x="581.7" y="799.7" width="28.3" height="21.6" rx="3"/><text x="595.8" y="809.2">WARS<tspan x="595.8" dy="7.5">dimer</tspan></text></g>
<g id="c-trp-ppi" class="n"><ellipse cx="531.7" cy="843" rx="18" ry="10.5"/><text x="531.7" y="841.5">pyrophosp<tspan x="531.7" dy="7.5">hate</tspan></text></g>
<g id="c-trp-amp" class="n"><ellipse cx="586.7" cy="839" rx="10" ry="8"/><text x="586.7" y="841.5">AMP</text></g>
<g id="c-trp-prod" class="n"><ellipse cx="565" cy="861.3" rx="19" ry="10"/><text x="565" y="859.8">Trp-tRNA<tspan x="565" dy="7.5">(Trp)</tspan></text></g>

<g id="c-tyr-aa" class="n"><ellipse cx="680.7" cy="770.7" rx="20" ry="6.5"/><text x="680.7" y="773.2">L-Tyrosine</text></g>
<g id="c-tyr-atp" class="n"><ellipse cx="656.7" cy="787.3" rx="9.5" ry="7"/><text x="656.7" y="789.8">ATP</text></g>
<g id="c-tyr-trna" class="n"><ellipse cx="709.3" cy="784.7" rx="19" ry="7"/><text x="709.3" y="787.2">tRNA(Tyr)</text></g>
<g id="c-tyr-enz" class="x"><rect x="700.7" y="799" width="25.3" height="20" rx="3"/><text x="713.3" y="807.7">YARS<tspan x="713.3" dy="7.5">dimer</tspan></text></g>
<g id="c-tyr-ppi" class="n"><ellipse cx="646.7" cy="835.3" rx="18" ry="10.5"/><text x="646.7" y="833.8">pyrophosp<tspan x="646.7" dy="7.5">hate</tspan></text></g>
<g id="c-tyr-amp" class="n"><ellipse cx="708.3" cy="834" rx="10" ry="8"/><text x="708.3" y="836.5">AMP</text></g>
<g id="c-tyr-prod" class="n"><ellipse cx="681.7" cy="850.7" rx="19" ry="10"/><text x="681.7" y="849.2">Tyr-tRNA<tspan x="681.7" dy="7.5">(Tyr)</tspan></text></g>

<g id="c-val-aa" class="n"><ellipse cx="794" cy="769.7" rx="17" ry="6.5"/><text x="794" y="772.2">L-Valine</text></g>
<g id="c-val-atp" class="n"><ellipse cx="771.7" cy="783" rx="9.5" ry="7"/><text x="771.7" y="785.5">ATP</text></g>
<g id="c-val-trna" class="n"><ellipse cx="825" cy="783" rx="19" ry="7"/><text x="825" y="785.5">tRNA(Val)</text></g>
<g id="c-val-enz" class="n"><rect x="823.3" y="805.3" width="23.4" height="10" rx="5"/><text x="835" y="812.8">VARS</text></g>
<g id="c-val-ppi" class="n"><ellipse cx="763.3" cy="835.3" rx="18" ry="10.5"/><text x="763.3" y="833.8">pyrophosp<tspan x="763.3" dy="7.5">hate</tspan></text></g>
<g id="c-val-amp" class="n"><ellipse cx="823.3" cy="834" rx="10" ry="8"/><text x="823.3" y="836.5">AMP</text></g>
<g id="c-val-prod" class="n"><ellipse cx="796" cy="852" rx="19" ry="10"/><text x="796" y="850.5">Val-tRNA<tspan x="796" dy="7.5">(Val)</tspan></text></g>

<!-- reaction connectors: input lines, catalysis (dashed) and output arrows -->
<g id="connectors">
<path d="M117,110.5 V152.7 M93.5,117.5 L117,122 M136.5,119.5 L117,122"/><path class="d" d="M117,137 H138.2"/><path class="a" d="M117,152.7 L105.5,155.5"/><path class="a" d="M117,152.7 L130,155.8"/><path class="a" d="M117,152.7 V169"/>
<path d="M229.5,109.5 V158.7 M208.5,118.5 L229.5,127 M238,122.5 L229.5,127"/><path class="d" d="M229.5,143.7 H252.5"/><path class="a" d="M229.5,158.7 L218.3,162.7"/><path class="a" d="M229.5,158.7 L240,162.7"/><path class="a" d="M229.5,158.7 V178.7"/>
<path d="M338.5,112.5 V157 M323.8,123 L338.5,125.3 M353.3,122 L338.5,125.3"/><path class="d" d="M338.5,140.3 H361"/><path class="a" d="M338.5,157 L328.3,161.3"/><path class="a" d="M338.5,157 L348.3,161.3"/><path class="a" d="M338.5,157 V172"/>
<path d="M451.7,108.5 V151.3 M434.5,118.5 L451.7,122 M463.3,120 L451.7,122"/><path class="d" d="M451.7,141 H470"/><path class="a" d="M451.7,151.3 L438.3,157"/><path class="a" d="M451.7,151.3 L465,157"/><path class="a" d="M451.7,151.3 V178.7"/>
<path d="M559,113.5 V156 M542.8,126 L559,127 M570.7,124 L559,127"/><path class="d" d="M559,140.5 H576.7"/><path class="a" d="M559,156 L550,160.3"/><path class="a" d="M559,156 L573.3,163.2"/><path class="a" d="M559,156 L558.2,180.3"/>
<path d="M666,114.5 V160.3 M652.2,127.5 L666,134.3 M674.3,126.5 L666,134.3"/><path class="d" d="M666,144.3 H682"/><path class="a" d="M666,160.3 L656.7,163.7"/><path class="a" d="M666,160.3 L676.7,163.7"/><path class="a" d="M666,160.3 V183.7"/>
<path d="M766.7,118.5 V160.3 M755.5,131 L766.7,134.7 M778,131 L766.7,134.7"/><path class="d" d="M766.7,146 H784"/><path class="a" d="M766.7,160.3 L759.3,163.7"/><path class="a" d="M766.7,160.3 L776.7,163.7"/><path class="a" d="M766.7,160.3 V185.3"/>

<path d="M166.7,228.8 V279 M156.7,244.7 L166.7,249.7 M178.3,247 L166.7,249.7"/><path class="d" d="M166.7,263.7 L185,259.7"/><path class="a" d="M166.7,279 L155,283.7"/><path class="a" d="M166.7,279 L176.7,283.7"/><path class="a" d="M166.7,279 V299.7"/>
<path d="M290,232.2 V283.7 M276.8,243.5 L290,244.7 M297.7,243.5 L290,244.7"/><path class="d" d="M290,262.3 H307.3"/><path class="a" d="M290,283.7 L269.3,288"/><path class="a" d="M290,283.7 L300,288"/><path class="a" d="M290,283.7 V301.3"/>
<path d="M396.7,232.8 V281.3 M382.8,246 L396.7,248 M407.7,246.5 L396.7,248"/><path class="d" d="M396.7,265.7 H413.3"/><path class="a" d="M396.7,281.3 L386.7,285.7"/><path class="a" d="M396.7,281.3 L410,286.5"/><path class="a" d="M396.7,281.3 V301.3"/>
<path d="M500.5,237.8 V284.7 M484.5,246 L500.5,250 M515,246 L500.5,250"/><path class="d" d="M500.5,269 H520"/><path class="a" d="M500.5,284.7 L490,289"/><path class="a" d="M500.5,284.7 L512,289.5"/><path class="a" d="M500.5,284.7 V308"/>
<path d="M607.3,238.5 V283.7 M593.5,249 L607.3,253 M621,247 L607.3,253"/><path class="d" d="M607.3,268 H626"/><path class="a" d="M607.3,283.7 L598.3,289"/><path class="a" d="M607.3,283.7 L621.7,291.3"/><path class="a" d="M607.3,283.7 V310.3"/>
<path d="M714,241.2 V287 M698,252.5 L714,258 M726.7,253 L714,258"/><path class="d" d="M714,273.5 H734"/><path class="a" d="M714,287 L702.7,293"/><path class="a" d="M714,287 L723.3,293"/><path class="a" d="M714,287 V316.3"/>
<path d="M898.5,295.2 V338 M914,309.7 L898.5,312.3"/><path class="a" d="M898.5,338 V374.5"/><path class="a" d="M877,337.5 L898,337.5"/><path class="d" d="M898.5,338 H918.3"/>

<path d="M111.7,362.2 V411.3 M97,379.5 L111.7,385.7 M120.5,384 L111.7,385.7"/><path class="d" d="M111.7,398 L131,396.3"/><path class="a" d="M111.7,411.3 L105,415.7"/><path class="a" d="M111.7,411.3 L123.3,417"/><path class="a" d="M111.7,411.3 V441"/>
<path d="M216.7,363.5 V405.7 M203.8,377.5 L216.7,380.3 M224.3,376.5 L216.7,380.3"/><path class="d" d="M216.7,393.7 H236.7"/><path class="a" d="M216.7,405.7 L203.3,413.7"/><path class="a" d="M216.7,405.7 L228.3,413.7"/><path class="a" d="M216.7,405.7 V440.3"/>
<path d="M323.3,361.2 V407 M310.5,370.5 L323.3,374.7 M336.7,368 L323.3,374.7"/><path class="d" d="M323.3,390.7 H342.3"/><path class="a" d="M323.3,407 L310,413.7"/><path class="a" d="M323.3,407 L336.7,414.7"/><path class="a" d="M323.3,407 V441.3"/>
<path d="M436.7,362.8 V408 M419.5,373.5 L436.7,376.3 M448.3,374 L436.7,376.3"/><path class="d" d="M436.7,393.7 H455"/><path class="a" d="M436.7,408 L426.7,413"/><path class="a" d="M436.7,408 L446.7,414.7"/><path class="a" d="M436.7,408 V439"/>
<path d="M551,362.8 V413 M529,375 L551,382.3 M565,376 L551,382.3"/><path class="d" d="M551,396.3 H570"/><path class="a" d="M551,413 L538.3,418"/><path class="a" d="M551,413 L565,418"/><path class="a" d="M551,413 V438"/>
<path d="M666,362.8 L666.7,414.7 M650.5,374 L666.5,377.3 M673,376 L666.5,377.3"/><path class="d" d="M666.7,402 H681.7"/><path class="a" d="M666.7,414.7 L653.3,421.3"/><path class="a" d="M666.7,414.7 L676.7,421.3"/><path class="a" d="M666.7,414.7 V438"/>
<path d="M768.3,363.5 V419 M752.8,376 L768.3,381.3 M780.3,373.5 L768.3,381.3"/><path class="d" d="M768.3,402.3 L784.3,401.3"/><path class="a" d="M768.3,419 L758.3,423"/><path class="a" d="M768.3,419 L781.7,423"/><path class="a" d="M768.3,419 V437"/>

<path d="M84.3,526.5 V567.7 M69.5,535.5 L84.3,539.3 M90,536 L84.3,539.3"/><path class="d" d="M84.3,555.5 H102.3"/><path class="a" d="M84.3,567.7 L73.3,571"/><path class="a" d="M84.3,567.7 L95,571"/><path class="a" d="M84.3,567.7 V585"/>
<path d="M184.3,526.5 V573.3 M170.5,535.5 L184.3,537.7 M199,534 L184.3,537.7"/><path class="d" d="M184.3,556.7 H201.7"/><path class="a" d="M184.3,573.3 L173.3,575"/><path class="a" d="M184.3,573.3 L216.5,589.5"/><path class="a" d="M184.3,573.3 L183.5,585"/>
<path d="M311,526.5 V573.3 M292.8,536 L311,539.3 M321.7,536.5 L311,539.3"/><path class="d" d="M311,557.7 H330"/><path class="a" d="M311,573.3 L300,575"/><path class="a" d="M311,573.3 L326.7,575.5"/><path class="a" d="M311,573.3 V590"/>
<path d="M411.7,524.8 V573.3 M395,536.5 L411.7,542.3 M441.7,525 L411.7,542.3"/><path class="d" d="M411.7,558.3 H425"/><path class="a" d="M411.7,573.3 L401.7,575"/><path class="a" d="M411.7,573.3 L430.5,591"/><path class="a" d="M411.7,573.3 V590"/>
<path d="M549.3,526 V569.3 M530,537 L549.3,538.3 M565.5,534.5 L549.3,538.3"/><path class="d" d="M549.3,555.7 H570.7"/><path class="a" d="M549.3,569.3 L535,573.3"/><path class="a" d="M549.3,569.3 L568,574.5"/><path class="a" d="M549.3,569.3 V585"/>
<path d="M655.7,527 V579 M641,540 L655.7,547.7 M670,541 L655.7,547.7"/><path class="d" d="M655.7,567.7 H673.3"/><path class="a" d="M655.7,579 L641.7,581.7"/><path class="a" d="M655.7,579 L686,598"/><path class="a" d="M655.7,579 V596.7"/>
<path d="M785,534.7 L786.7,586.7 M772.8,547 L786.7,549 M801,546 L786.7,549"/><path class="d" d="M786.7,571.7 H808.3"/><path class="a" d="M786.7,586.7 L772.7,589"/><path class="a" d="M786.7,586.7 L819,599"/><path class="a" d="M786.7,586.7 L787.5,601.7"/>

<path d="M126,640.7 V689.7 M113.8,652.5 L126,656.3 M138.3,654 L126,656.3"/><path class="d" d="M126,674.3 H148.3"/><path class="a" d="M126,689.7 L116.7,692.7"/><path class="a" d="M126,689.7 L140,692.7"/><path class="a" d="M126,689.7 L125.5,711.3"/>
<path d="M234.3,641.8 L235.5,692 M221.8,655 L234.5,658 M244.3,654 L234.5,658"/><path class="d" d="M234.7,674.7 H256.7"/><path class="a" d="M235.5,692 L226.7,696"/><path class="a" d="M235.5,692 L247.7,699.3"/><path class="a" d="M235.5,692 L236.5,718.7"/>
<path d="M341.7,641.8 V698 M328.5,657 L341.7,659.3 M348.7,655.5 L341.7,659.3"/><path class="d" d="M341.7,680.3 H358.3"/><path class="a" d="M341.7,698 L328.3,703.7"/><path class="a" d="M341.7,698 L366.5,721.5"/><path class="a" d="M341.7,698 L342.5,718"/>
<path d="M470.5,641.8 V700.3 M455,656 L470.5,664.7 M478,660 L470.5,664.7"/><path class="d" d="M470.5,684.3 H489"/><path class="a" d="M470.5,700.3 L455,708"/><path class="a" d="M470.5,700.3 L499,721"/><path class="a" d="M470.5,700.3 V718"/>
<path d="M599.3,641.8 V694.7 M586,655 L599.3,655.3 M611,652 L599.3,655.3"/><path class="d" d="M599.3,676 H618.3"/><path class="a" d="M599.3,694.7 L586,702"/><path class="a" d="M599.3,694.7 L627.5,714"/><path class="a" d="M599.3,694.7 L600,717"/>
<path d="M738.3,641.8 V693 M722,654 L738.3,662.7 M757,654 L738.3,662.7"/><path class="d" d="M738.3,679.3 H759.3"/><path class="a" d="M738.3,693 L723.3,702"/><path class="a" d="M738.3,693 L766,712.5"/><path class="a" d="M738.3,693 V718"/>
<path d="M914,690.8 L915,732.5 M929,708.7 L915,717"/><path class="a" d="M915,732.5 L915.5,767.5"/><path class="a" d="M891,732 L914,732.5"/><path class="d" d="M915,732.5 H936.7"/>

<path d="M89,776.2 V829.7 M63.5,788.5 L89,793 M107,787 L89,793"/><path class="d" d="M89,810.7 H110.7"/><path class="a" d="M89,829.7 L80,836.3"/><path class="a" d="M89,829.7 L103.3,836.3"/><path class="a" d="M89,829.7 L90,861.3"/>
<path d="M204,777.2 V831.3 M187.8,789 L204,797.3 M220,791.3 L204,797.3"/><path class="d" d="M204,815.3 H224"/><path class="a" d="M204,831.3 L188,833"/><path class="a" d="M204,831.3 L236.5,845.5"/><path class="a" d="M204,831.3 V849.7"/>
<path d="M342.5,777.8 L341.7,826.3 M322.2,786 L341.7,789.7 M356,788 L341.7,789.7"/><path class="d" d="M341.7,809.7 H360.7"/><path class="a" d="M341.7,826.3 L331.7,829.7"/><path class="a" d="M341.7,826.3 L353.3,832"/><path class="a" d="M341.7,826.3 V848"/>
<path d="M458.3,777.8 V822.3 M441,789 L458.3,792 M469,790 L458.3,792"/><path class="d" d="M458.3,809 H477.3"/><path class="a" d="M458.3,822.3 L450,826.3"/><path class="a" d="M458.3,822.3 L471.7,829.7"/><path class="a" d="M458.3,822.3 V844.7"/>
<path d="M566,779.5 V824 M551,791 L566,791.3 M572.7,791 L566,791.3"/><path class="d" d="M566,809.7 H581.7"/><path class="a" d="M566,824 L556,829.7"/><path class="a" d="M566,824 L576,829.7"/><path class="a" d="M566,824 L565.2,851.3"/>
<path d="M680.5,777.2 V827.3 M666,789 L680.5,791.3 M690.3,787 L680.5,791.3"/><path class="d" d="M680.5,809.7 H700.7"/><path class="a" d="M680.5,827.3 L668.3,829.7"/><path class="a" d="M680.5,827.3 L693.3,829.7"/><path class="a" d="M680.5,827.3 L681.5,840.7"/>
<path d="M795,776.2 V826.3 M781,785 L795,792.3 M806,786 L795,792.3"/><path class="d" d="M795,809.7 H823.3"/><path class="a" d="M795,826.3 L783.3,828.7"/><path class="a" d="M795,826.3 L808.3,829.7"/><path class="a" d="M795,826.3 V842"/>
</g>

<!-- step numbers -->
<g id="step-labels">
<text class="lb" x="226.5" y="147">28</text>
<text class="lb" x="447" y="140.5">27, 30</text>
<text class="lb" x="763.3" y="150.5">11</text>
<text class="lb" x="164" y="268">12</text>
<text class="lb" x="286" y="270.5">29</text>
<text class="lb" x="392.7" y="269.5">30</text>
<text class="lb" x="497.3" y="272.5">31</text>
<text class="lb" x="604.3" y="272">15</text>
<text class="lb" x="710" y="276.5">32</text>
<text class="lb" x="895" y="352.5">37</text>
<text class="lb" x="109" y="402">33</text>
<text class="lb" x="318.3" y="395.5">34</text>
<text class="lb" x="547.7" y="401.5">35</text>
<text class="lb" x="663.3" y="403.5">27</text>
<text class="lb" x="80.5" y="557.5">4, 5</text>
<text class="lb" x="180.3" y="558.5">6</text>
<text class="lb" x="258.5" y="541.5">1</text>
<text class="lb" x="307.7" y="559.5">7</text>
<text class="lb" x="408.3" y="562">8</text>
<text class="lb" x="482.5" y="541">1</text>
<text class="lb" x="546.7" y="558">9</text>
<text class="lb" x="652.7" y="568">10</text>
<text class="lb" x="731" y="548">1</text>
<text class="lb" x="784.3" y="575">11</text>
<text class="lb" x="865.5" y="554.5">1</text>
<text class="lb" x="122.3" y="678">12</text>
<text class="lb" x="231.7" y="679.5">13</text>
<text class="lb" x="338.3" y="685.5">14</text>
<text class="lb" x="416" y="663.5">1</text>
<text class="lb" x="466.7" y="687">6</text>
<text class="lb" x="546.5" y="663.5">1</text>
<text class="lb" x="596" y="681">15</text>
<text class="lb" x="675.5" y="658.5">1</text>
<text class="lb" x="735" y="682">16</text>
<text class="lb" x="816.5" y="659.5">1</text>
<text class="lb" x="973" y="721.5">2, 7</text>
<text class="lb" x="911" y="750">2, 3, 36</text>
<text class="lb" x="86" y="816.5">17</text>
<text class="lb" x="200.7" y="819.5">10</text>
<text class="lb" x="282" y="796.5">1</text>
<text class="lb" x="338.3" y="812">18</text>
<text class="lb" x="455" y="812">19</text>
<text class="lb" x="561" y="812">20-22</text>
<text class="lb" x="676.7" y="813">23, 24</text>
<text class="lb" x="791.7" y="813">25</text>
</g>
</svg>
